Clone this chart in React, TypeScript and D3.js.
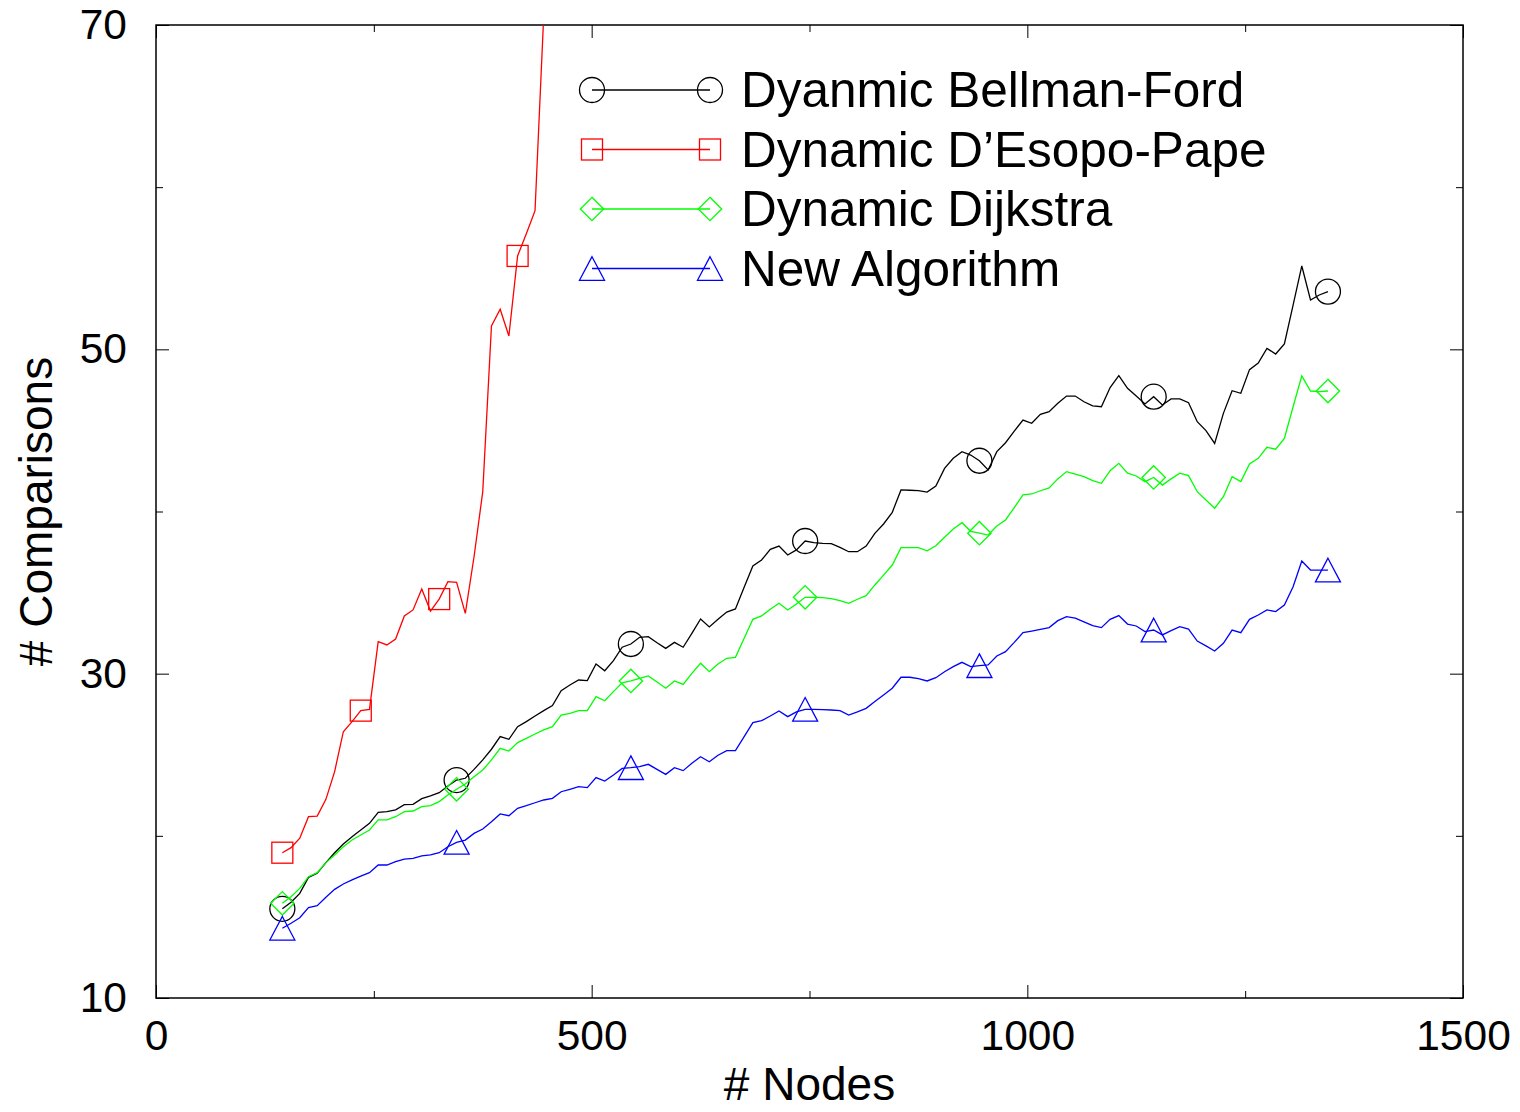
import React, { useEffect, useRef } from 'react';
import * as d3 from 'd3';

// x values: number of nodes
const nodes = [
  145, 155, 165, 175, 185, 195, 205, 215, 225, 235,
  245, 255, 265, 275, 285, 295, 305, 315, 325, 335,
  345, 355, 365, 375, 385, 395, 405, 415, 425, 435,
  445, 455, 465, 475, 485, 495, 505, 515, 525, 535,
  545, 555, 565, 575, 585, 595, 605, 615, 625, 635,
  645, 655, 665, 675, 685, 695, 705, 715, 725, 735,
  745, 755, 765, 775, 785, 795, 805, 815, 825, 835,
  845, 855, 865, 875, 885, 895, 905, 915, 925, 935,
  945, 955, 965, 975, 985, 995, 1005, 1015, 1025, 1035,
  1045, 1055, 1065, 1075, 1085, 1095, 1105, 1115, 1125, 1135,
  1145, 1155, 1165, 1175, 1185, 1195, 1205, 1215, 1225, 1235,
  1245, 1255, 1265, 1275, 1285, 1295, 1305, 1315, 1325, 1335,
  1345,
];

const bellmanFord = [
  15.5, 15.9, 16.45, 17.44, 17.69, 18.35, 18.96, 19.5, 19.95, 20.36,
  20.77, 21.45, 21.49, 21.6, 21.92, 21.94, 22.29, 22.46, 22.66, 23.07,
  23.44, 23.55, 24.1, 24.68, 25.34, 26.12, 25.95, 26.73, 27.04, 27.39,
  27.72, 28.03, 28.95, 29.3, 29.61, 29.57, 30.6, 30.18, 30.8, 31.63,
  31.83, 32.24, 32.28, 31.91, 31.56, 31.93, 31.63, 32.49, 33.37, 32.88,
  33.35, 33.8, 33.99, 35.33, 36.64, 37.01, 37.67, 37.87, 37.32, 37.63,
  38.18, 38.08, 38.04, 38.02, 37.79, 37.52, 37.52, 37.87, 38.65, 39.23,
  39.95, 41.33, 41.31, 41.29, 41.2, 41.57, 42.66, 43.28, 43.69, 43.48,
  43.13, 42.56, 43.69, 44.24, 44.96, 45.64, 45.44, 45.99, 46.16, 46.67,
  47.12, 47.12, 46.77, 46.51, 46.46, 47.64, 48.38, 47.6, 47.12, 46.63,
  47.08, 46.57, 46.94, 46.94, 46.71, 45.54, 44.99, 44.2, 46.05, 47.45,
  47.29, 48.75, 49.15, 50.06, 49.71, 50.33, 52.73, 55.14, 53.04, 53.35,
  53.56,
];

const desopoPape = [
  18.96, 19.27, 19.85, 21.18, 21.22, 22.25, 23.96, 26.42, 27.04, 27.72,
  27.8, 31.97, 31.77, 32.14, 33.56, 33.93, 35.22, 33.86, 34.6, 35.67,
  35.63, 33.72, 37.21, 41.22, 51.44, 52.47, 50.82, 55.76, 57.13, 58.55,
  70.6,
];

const dijkstra = [
  15.84, 16.25, 16.76, 17.48, 17.73, 18.35, 18.82, 19.33, 19.74, 20.05,
  20.36, 20.98, 20.98, 21.18, 21.49, 21.53, 21.8, 21.86, 22.11, 22.52,
  22.87, 23.2, 23.65, 24.06, 24.68, 25.4, 25.23, 25.75, 26.01, 26.28,
  26.53, 26.73, 27.45, 27.55, 27.72, 27.72, 28.58, 28.33, 28.89, 29.44,
  29.55, 29.71, 29.86, 29.49, 29.1, 29.55, 29.34, 30.02, 30.64, 30.12,
  30.6, 30.95, 31.01, 32.18, 33.35, 33.56, 33.97, 34.34, 33.93, 34.3,
  34.71, 34.71, 34.69, 34.63, 34.5, 34.34, 34.59, 34.81, 35.47, 36.08,
  36.7, 37.77, 37.77, 37.77, 37.58, 37.89, 38.41, 38.92, 39.31, 38.78,
  38.66, 38.55, 39.11, 39.48, 40.24, 41.02, 41.08, 41.28, 41.45, 42.01,
  42.46, 42.31, 42.15, 41.9, 41.74, 42.52, 42.97, 42.36, 42.19, 41.84,
  42.1, 41.63, 42.01, 42.36, 42.21, 41.22, 40.71, 40.2, 40.91, 42.15,
  41.84, 42.93, 43.28, 43.96, 43.84, 44.51, 46.46, 48.36, 47.43, 47.39,
  47.43,
];

const newAlgorithm = [
  14.3, 14.61, 14.95, 15.57, 15.69, 16.21, 16.7, 17.03, 17.28, 17.52,
  17.73, 18.2, 18.2, 18.41, 18.57, 18.61, 18.76, 18.82, 18.96, 19.33,
  19.6, 19.74, 20.15, 20.42, 20.87, 21.35, 21.24, 21.7, 21.86, 22.04,
  22.21, 22.31, 22.72, 22.87, 23.03, 22.97, 23.59, 23.38, 23.75, 24.16,
  24.2, 24.27, 24.41, 24.1, 23.79, 24.2, 24.02, 24.47, 24.88, 24.57,
  24.97, 25.25, 25.25, 26.12, 26.98, 27.1, 27.39, 27.7, 27.35, 27.64,
  27.8, 27.8, 27.78, 27.76, 27.72, 27.45, 27.64, 27.86, 28.28, 28.69,
  29.1, 29.78, 29.78, 29.69, 29.55, 29.75, 30.12, 30.43, 30.7, 30.43,
  30.49, 30.54, 31.09, 31.36, 31.93, 32.53, 32.63, 32.73, 32.84, 33.27,
  33.52, 33.43, 33.19, 32.96, 32.84, 33.35, 33.58, 33.06, 32.94, 32.59,
  32.69, 32.39, 32.65, 32.9, 32.75, 32.01, 31.71, 31.4, 31.87, 32.69,
  32.53, 33.35, 33.62, 33.93, 33.83, 34.23, 35.36, 36.95, 36.39, 36.39,
  36.39,
];

const seriesNames = ['Dyanmic Bellman-Ford', 'Dynamic D\u2019Esopo-Pape', 'Dynamic Dijkstra', 'New Algorithm'];
const seriesValues = [bellmanFord, desopoPape, dijkstra, newAlgorithm];
const seriesColors = ['#000000', '#ff0000', '#00ff00', '#0000ff'];
const seriesShapes = ['circle', 'square', 'diamond', 'triangle'];
const markerEvery = [20, 9, 20, 20];

const xTicks = [0, 500, 1000, 1500];
const xMinorTicks = [250, 750, 1250];
const yTicks = [10, 30, 50, 70];
const yMinorTicks = [20, 40, 60];

const FONT = '"Liberation Sans", Arial, Helvetica, sans-serif';

const drawMarker = (g, shape, cx, cy, color) => {
  if (shape === 'circle') {
    g.append('circle').attr('cx', cx).attr('cy', cy).attr('r', 12.5)
      .attr('fill', 'none').attr('stroke', color).attr('stroke-width', 1.3);
  } else if (shape === 'square') {
    g.append('rect').attr('x', cx - 10.5).attr('y', cy - 10.5).attr('width', 21).attr('height', 21)
      .attr('fill', 'none').attr('stroke', color).attr('stroke-width', 1.3);
  } else if (shape === 'diamond') {
    g.append('path').attr('d', `M${cx},${cy - 11.7}L${cx + 11.7},${cy}L${cx},${cy + 11.7}L${cx - 11.7},${cy}Z`)
      .attr('fill', 'none').attr('stroke', color).attr('stroke-width', 1.3);
  } else {
    g.append('path').attr('d', `M${cx},${cy - 11.8}L${cx + 12.5},${cy + 11.8}L${cx - 12.5},${cy + 11.8}Z`)
      .attr('fill', 'none').attr('stroke', color).attr('stroke-width', 1.3);
  }
};

const App = () => {
  const svgRef = useRef(null);

  useEffect(() => {
    const width = 1520, height = 1112;
    const left = 156, right = 1463, top = 25, bottom = 998;

    const svg = d3.select(svgRef.current);
    svg.selectAll('*').remove();
    svg.attr('width', width).attr('height', height);

    const x = d3.scaleLinear().domain([0, 1500]).range([left, right]);
    const y = d3.scaleLinear().domain([10, 70]).range([bottom, top]);

    svg.append('rect').attr('width', width).attr('height', height).attr('fill', '#fff');

    // ticks on all four sides, pointing inward
    const styleAxis = (g) => {
      g.select('.domain').remove();
      g.selectAll('line').attr('stroke', '#000').attr('stroke-width', 1);
      g.selectAll('text').attr('font-family', FONT).attr('font-size', 42.5).attr('fill', '#000');
    };
    svg.append('g').attr('transform', `translate(0,${bottom})`)
      .call(d3.axisBottom(x).tickValues(xTicks).tickSize(-13).tickPadding(22).tickFormat(d3.format('d')))
      .call(styleAxis);
    svg.append('g').attr('transform', `translate(0,${bottom})`)
      .call(d3.axisBottom(x).tickValues(xMinorTicks).tickSize(-7).tickFormat(() => ''))
      .call(styleAxis);
    svg.append('g').attr('transform', `translate(0,${top})`)
      .call(d3.axisTop(x).tickValues(xTicks).tickSize(-13).tickFormat(() => ''))
      .call(styleAxis);
    svg.append('g').attr('transform', `translate(0,${top})`)
      .call(d3.axisTop(x).tickValues(xMinorTicks).tickSize(-7).tickFormat(() => ''))
      .call(styleAxis);
    svg.append('g').attr('transform', `translate(${left},0)`)
      .call(d3.axisLeft(y).tickValues(yTicks).tickSize(-13).tickPadding(29).tickFormat(d3.format('d')))
      .call(styleAxis);
    svg.append('g').attr('transform', `translate(${left},0)`)
      .call(d3.axisLeft(y).tickValues(yMinorTicks).tickSize(-7).tickFormat(() => ''))
      .call(styleAxis);
    svg.append('g').attr('transform', `translate(${right},0)`)
      .call(d3.axisRight(y).tickValues(yTicks).tickSize(-13).tickFormat(() => ''))
      .call(styleAxis);
    svg.append('g').attr('transform', `translate(${right},0)`)
      .call(d3.axisRight(y).tickValues(yMinorTicks).tickSize(-7).tickFormat(() => ''))
      .call(styleAxis);

    svg.append('rect')
      .attr('x', left).attr('y', top).attr('width', right - left).attr('height', bottom - top)
      .attr('fill', 'none').attr('stroke', '#000').attr('stroke-width', 1.5);

    svg.append('defs').append('clipPath').attr('id', 'plot-clip')
      .append('rect').attr('x', left).attr('y', top).attr('width', right - left).attr('height', bottom - top);

    const line = d3.line().x((d, i) => x(nodes[i])).y(d => y(d));

    seriesValues.forEach((vals, s) => {
      svg.append('path')
        .attr('d', line(vals))
        .attr('fill', 'none')
        .attr('stroke', seriesColors[s])
        .attr('stroke-width', 1.3)
        .attr('clip-path', 'url(#plot-clip)');
      const mg = svg.append('g');
      vals.forEach((v, i) => {
        if (i % markerEvery[s] === 0 && v <= 70) {
          drawMarker(mg, seriesShapes[s], x(nodes[i]), y(v), seriesColors[s]);
        }
      });
    });

    // legend
    const legend = svg.append('g');
    seriesNames.forEach((name, s) => {
      const ly = 90 + s * 59.5;
      legend.append('line').attr('x1', 592).attr('x2', 710).attr('y1', ly).attr('y2', ly)
        .attr('stroke', seriesColors[s]).attr('stroke-width', 1.3);
      drawMarker(legend, seriesShapes[s], 592, ly, seriesColors[s]);
      drawMarker(legend, seriesShapes[s], 710, ly, seriesColors[s]);
      legend.append('text').attr('x', 741).attr('y', ly + 17)
        .attr('font-family', FONT).attr('font-size', 49.5).attr('fill', '#000')
        .text(name);
    });

    // axis titles
    svg.append('text')
      .attr('x', (left + right) / 2).attr('y', 1100)
      .attr('text-anchor', 'middle')
      .attr('font-family', FONT).attr('font-size', 46).attr('fill', '#000')
      .text('# Nodes');
    svg.append('text')
      .attr('transform', `translate(52,${(top + bottom) / 2}) rotate(-90)`)
      .attr('text-anchor', 'middle')
      .attr('font-family', FONT).attr('font-size', 46).attr('fill', '#000')
      .text('# Comparisons');
  }, []);

  return <svg ref={svgRef} style={{ position: 'absolute', left: 0, top: 0, display: 'block' }}></svg>;
};

export default App;
